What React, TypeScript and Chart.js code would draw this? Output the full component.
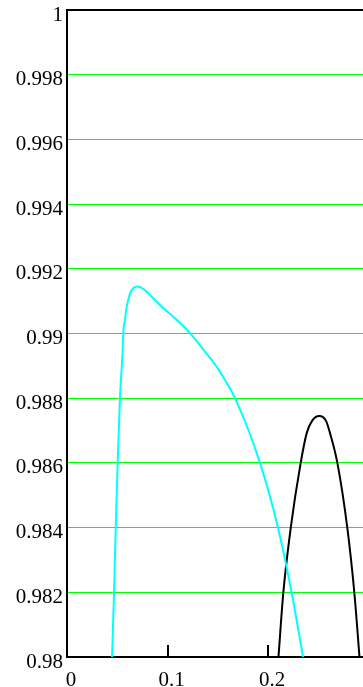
import React, { useEffect, useRef } from "react";
import { Chart, registerables } from "chart.js";

Chart.register(...registerables);

const cyanX = [0.0448, 0.0468, 0.0485, 0.0504, 0.0527, 0.0554, 0.056, 0.0577, 0.0594, 0.061, 0.0627, 0.066, 0.0697, 0.0736, 0.0776, 0.0925, 0.1092, 0.1224, 0.1373, 0.149, 0.1572, 0.1672, 0.192, 0.21, 0.2236, 0.2348];
const cyanY = [0.98, 0.98198, 0.98399, 0.986, 0.98801, 0.98949, 0.99002, 0.99042, 0.99083, 0.99104, 0.99124, 0.9914, 0.99145, 0.99142, 0.99134, 0.99088, 0.99042, 0.99001, 0.98944, 0.98897, 0.98856, 0.988, 0.986, 0.98399, 0.98198, 0.98];

const blackX = [0.2104, 0.2152, 0.2226, 0.2325, 0.2385, 0.2438, 0.251, 0.2577, 0.2617, 0.269, 0.2789, 0.2859, 0.291];
const blackY = [0.98, 0.98198, 0.98399, 0.986, 0.98692, 0.9873, 0.98745, 0.9873, 0.98692, 0.986, 0.98399, 0.98198, 0.98];

const xTicks = [0, 0.1, 0.2];
const xTickLabels = ["0", "0.1", "0.2"];
const xMarkTicks = [0.1, 0.2];
const yTicks = [0.98, 0.982, 0.984, 0.986, 0.988, 0.99, 0.992, 0.994, 0.996, 0.998, 1];
const yTickLabels = ["0.98", "0.982", "0.984", "0.986", "0.988", "0.99", "0.992", "0.994", "0.996", "0.998", "1"];

const X_MIN = 0;
const X_MAX = 0.2945;
const Y_MIN = 0.98;
const Y_MAX = 1;

const FONT = { family: "'Liberation Serif', 'Times New Roman', serif", size: 21 };

export default function App() {
  const ref = useRef<HTMLCanvasElement | null>(null);

  useEffect(() => {
    document.body.style.margin = "0";
    const canvas = ref.current;
    if (!canvas) return;

    const tickMarkPlugin = {
      id: "tickMarks",
      afterDatasetsDraw(chart: any) {
        const { ctx, scales, chartArea } = chart;
        ctx.save();
        ctx.strokeStyle = "#000";
        ctx.lineWidth = 2;
        xMarkTicks.forEach((v) => {
          const px = Math.round(scales.x.getPixelForValue(v));
          ctx.beginPath();
          ctx.moveTo(px, chartArea.bottom);
          ctx.lineTo(px, chartArea.bottom - 12);
          ctx.stroke();
        });
        ctx.restore();
      },
    };

    const chart = new Chart(canvas, {
      type: "line",
      data: {
        datasets: [
          {
            data: cyanX.map((x, i) => ({ x, y: cyanY[i] })),
            borderColor: "#00ffff",
            borderWidth: 2,
            pointRadius: 0,
            cubicInterpolationMode: "monotone",
            fill: false,
          },
          {
            data: blackX.map((x, i) => ({ x, y: blackY[i] })),
            borderColor: "#000000",
            borderWidth: 2,
            pointRadius: 0,
            cubicInterpolationMode: "monotone",
            fill: false,
          },
        ],
      },
      options: {
        animation: false,
        responsive: false,
        maintainAspectRatio: false,
        layout: { padding: { top: 10, right: 0, left: 0, bottom: 0 } },
        plugins: { legend: { display: false }, tooltip: { enabled: false } },
        scales: {
          x: {
            type: "linear",
            min: X_MIN,
            max: X_MAX,
            afterBuildTicks: (scale: any) => {
              scale.ticks = xTicks.map((v) => ({ value: v }));
            },
            afterFit: (scale: any) => {
              scale.height = 30;
              scale.paddingLeft = 0;
              scale.paddingRight = 0;
            },
            ticks: {
              autoSkip: false,
              maxRotation: 0,
              padding: 11,
              labelOffset: 4,
              color: "#000",
              font: FONT,
              callback: (v: any) => {
                const i = xTicks.findIndex((t) => Math.abs(t - Number(v)) < 1e-9);
                return i >= 0 ? xTickLabels[i] : "";
              },
            },
            grid: { display: false, drawTicks: false },
            border: { display: true, color: "#000", width: 2 },
          },
          y: {
            type: "linear",
            min: Y_MIN,
            max: Y_MAX,
            afterBuildTicks: (scale: any) => {
              scale.ticks = yTicks.map((v) => ({ value: v }));
            },
            afterFit: (scale: any) => {
              scale.width = 67;
              scale.paddingTop = 0;
              scale.paddingBottom = 0;
            },
            ticks: {
              autoSkip: false,
              padding: 4,
              labelOffset: 5,
              color: "#000",
              font: FONT,
              callback: (v: any) => {
                const i = yTicks.findIndex((t) => Math.abs(t - Number(v)) < 1e-9);
                return i >= 0 ? yTickLabels[i] : "";
              },
            },
            grid: {
              drawTicks: false,
              color: (ctx: any) => {
                const v = ctx.tick ? ctx.tick.value : null;
                if (v === null) return "#00ff00";
                if (Math.abs(v - Y_MAX) < 1e-9) return "#000000";
                if (Math.abs(v - Y_MIN) < 1e-9) return "rgba(0,0,0,0)";
                return "#00ff00";
              },
              lineWidth: (ctx: any) => {
                const v = ctx.tick ? ctx.tick.value : null;
                if (v !== null && Math.abs(v - Y_MAX) < 1e-9) return 2;
                return 1;
              },
            },
            border: { display: true, color: "#000", width: 2 },
          },
        },
      },
      plugins: [tickMarkPlugin],
    } as any);

    return () => chart.destroy();
  }, []);

  return (
    <div style={{ position: "absolute", left: 0, top: 0, width: 363, height: 687 }}>
      <canvas ref={ref} width={363} height={687} style={{ display: "block" }} />
    </div>
  );
}
